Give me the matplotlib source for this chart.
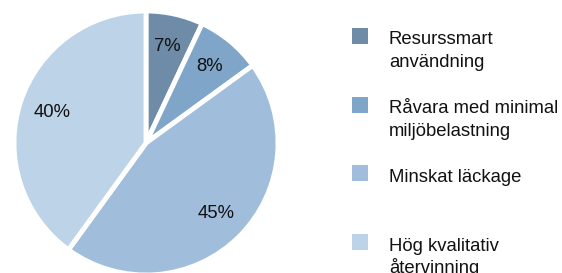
import matplotlib.pyplot as plt
from matplotlib.patches import Rectangle

plt.rcParams['font.family'] = ['Liberation Sans', 'DejaVu Sans']

labels = ["Resurssmart\nanvändning", "Råvara med minimal\nmiljöbelastning",
          "Minskat läckage", "Hög kvalitativ\nåtervinning"]
values = [7, 8, 45, 40]
colors = ["#6e8ca8", "#7fa6c8", "#a0bedb", "#bdd3e7"]

W, H = 562, 273
fig = plt.figure(figsize=(W / 100, H / 100), dpi=100)

# pie: centre (146, 143) px, radius 132 px
cx, cy, r = 146, 143, 132
ax = fig.add_axes([(cx - r) / W, (H - cy - r) / H, 2 * r / W, 2 * r / H])
wedges, texts, autotexts = ax.pie(values, colors=colors, startangle=90, counterclock=False,
                                  autopct='%d%%', pctdistance=0.75, radius=1,
                                  wedgeprops=dict(edgecolor='white', linewidth=3.5),
                                  textprops=dict(fontsize=13.3, color='#111111'))
ax.set_xlim(-1, 1)
ax.set_ylim(-1, 1)
ax.set_aspect('equal')
ax.axis('off')

# legend drawn by hand
for i, (lab, col) in enumerate(zip(labels, colors)):
    top = 28 + i * 68.7
    fig.add_artist(Rectangle((352 / W, 1 - (top + 16) / H), 16 / W, 16 / H,
                             transform=fig.transFigure, color=col, lw=0))
    for j, line in enumerate(lab.split("\n")):
        base = top + 16.5 + j * 22.5
        fig.text(389 / W, 1 - base / H, line, fontsize=13.3, color='#111111',
                 va='baseline', ha='left')

fig.savefig("out.png", dpi=100)
